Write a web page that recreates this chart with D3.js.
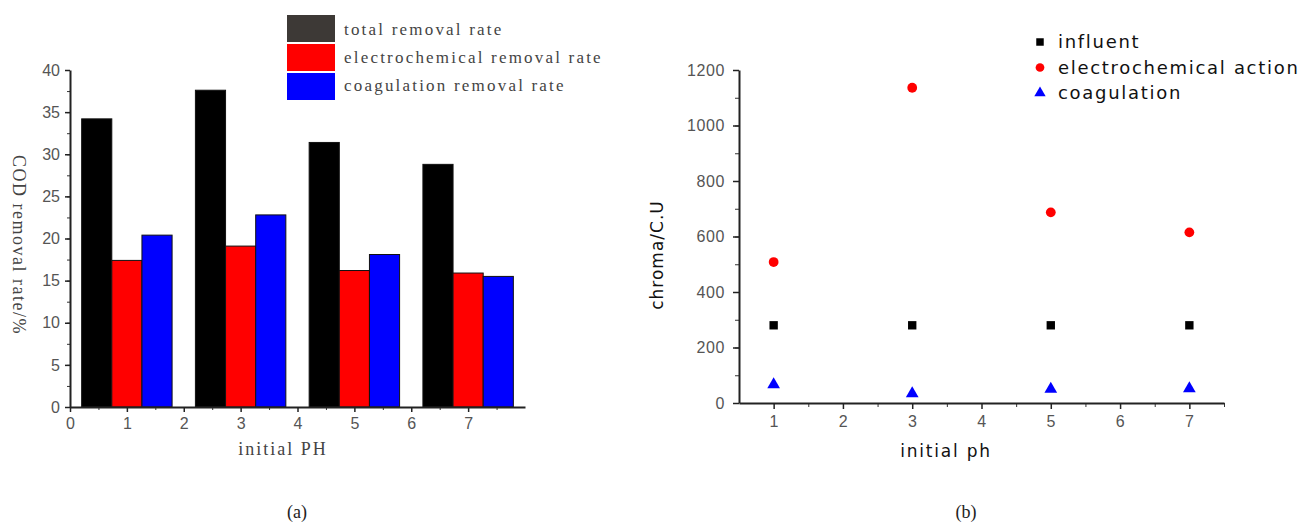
<!DOCTYPE html>
<html>
<head>
<meta charset="utf-8">
<script src="https://cdn.jsdelivr.net/npm/d3@7"></script>
<style>
  body { margin: 0; background: #fff; }
  svg { display: block; }
</style>
</head>
<body>
<svg id="fig" width="1303" height="527"></svg>
<script>
// ---- data (a) ----
const phA = [1, 3, 5, 7];
const seriesA = ["total removal rate", "electrochemical removal rate", "coagulation removal rate"];
const totalRate = [34.2, 37.6, 31.4, 28.8];
const electroRate = [17.4, 19.1, 16.2, 15.9];
const coagRate = [20.4, 22.8, 18.1, 15.5];
const colorsA = ["#000000", "#ff0000", "#0000ff"];
const swatchA = ["#3d3936", "#ff0000", "#0000ff"];
const yTicksA = [0, 5, 10, 15, 20, 25, 30, 35, 40];
const xTicksA = [0, 1, 2, 3, 4, 5, 6, 7];

// ---- data (b) ----
const phB = [1, 3, 5, 7];
const seriesB = ["influent", "electrochemical action", "coagulation"];
const influent = [280, 280, 280, 280];
const electroAction = [508, 1136, 687, 615];
const coagulation = [66, 34, 50, 52];
const colorsB = ["#000000", "#ff0000", "#0000ff"];
const yTicksB = [0, 200, 400, 600, 800, 1000, 1200];
const xTicksB = [1, 2, 3, 4, 5, 6, 7];

const svg = d3.select("#fig");
const tickColor = "#555";
const sansFont = "'Liberation Sans', Arial, sans-serif";
const serifFont = "'Liberation Serif', 'Times New Roman', serif";
const dejavu = "'DejaVu Sans', sans-serif";

// ================= (a) bar chart =================
const xA = d3.scaleLinear().domain([0, 8]).range([70, 525]);
const yA = d3.scaleLinear().domain([0, 40]).range([407, 70]);
const barW = 0.53;
const gA = svg.append("g");

const valsA = [totalRate, electroRate, coagRate];
valsA.forEach(function (vals, s) {
  gA.selectAll("rect.s" + s)
    .data(vals)
    .enter().append("rect")
    .attr("x", function (d, i) { return xA(phA[i] + (s - 1.5) * barW); })
    .attr("width", xA(barW) - xA(0))
    .attr("y", function (d) { return yA(d); })
    .attr("height", function (d) { return yA(0) - yA(d); })
    .attr("fill", colorsA[s])
    .attr("stroke", "#111")
    .attr("stroke-width", 1);
});

// minor ticks
gA.append("g").attr("transform", "translate(70,0)")
  .call(d3.axisLeft(yA).tickValues(d3.range(0, 40.1, 2.5)).tickSize(3).tickFormat(""))
  .call(function (g) { g.select(".domain").remove(); g.selectAll("line").attr("stroke", "#333"); });
gA.append("g").attr("transform", "translate(0,407)")
  .call(d3.axisBottom(xA).tickValues(d3.range(0.5, 8, 1)).tickSize(3).tickFormat(""))
  .call(function (g) { g.select(".domain").remove(); g.selectAll("line").attr("stroke", "#333"); });

const yAxisA = gA.append("g").attr("transform", "translate(70,0)")
  .call(d3.axisLeft(yA).tickValues(yTicksA).tickSize(5).tickSizeOuter(0).tickPadding(5));
const xAxisA = gA.append("g").attr("transform", "translate(0,407)")
  .call(d3.axisBottom(xA).tickValues(xTicksA).tickSize(5).tickSizeOuter(0).tickPadding(6));
[yAxisA, xAxisA].forEach(function (ax) {
  ax.select(".domain").attr("stroke", "#222").attr("stroke-width", 2);
  ax.selectAll(".tick line").attr("stroke", "#222").attr("stroke-width", 1.5);
  ax.selectAll("text").attr("fill", tickColor).style("font-family", sansFont).style("font-size", "16px");
});

gA.append("text")
  .attr("transform", "translate(13,245) rotate(90)")
  .attr("text-anchor", "middle")
  .style("font-family", serifFont).style("font-size", "18px").style("letter-spacing", "1.5px")
  .attr("fill", "#444")
  .text("COD removal rate/%");
gA.append("text")
  .attr("x", 283).attr("y", 455)
  .attr("text-anchor", "middle")
  .style("font-family", serifFont).style("font-size", "18px").style("letter-spacing", "2px")
  .attr("fill", "#444")
  .text("initial PH");

const legA = gA.append("g");
seriesA.forEach(function (name, i) {
  legA.append("rect").attr("x", 287).attr("y", 15 + i * 29).attr("width", 48).attr("height", 27)
    .attr("fill", swatchA[i]);
  legA.append("text").attr("x", 344).attr("y", 35 + i * 28)
    .style("font-family", serifFont).style("font-size", "17px").style("letter-spacing", "2.2px")
    .attr("fill", "#444").text(name);
});

svg.append("text").attr("x", 297).attr("y", 518).attr("text-anchor", "middle")
  .style("font-family", serifFont).style("font-size", "18px").attr("fill", "#222").text("(a)");

// ================= (b) scatter =================
const xB = d3.scaleLinear().domain([0.5, 7.5]).range([739, 1224]);
const yB = d3.scaleLinear().domain([0, 1200]).range([403, 70]);
const gB = svg.append("g");

gB.append("g").attr("transform", "translate(739,0)")
  .call(d3.axisLeft(yB).tickValues(d3.range(0, 1201, 100)).tickSize(4).tickFormat(""))
  .call(function (g) { g.select(".domain").remove(); g.selectAll("line").attr("stroke", "#333"); });
gB.append("g").attr("transform", "translate(0,403)")
  .call(d3.axisBottom(xB).tickValues(d3.range(1.5, 7.6, 1)).tickSize(4).tickFormat(""))
  .call(function (g) { g.select(".domain").remove(); g.selectAll("line").attr("stroke", "#333"); });

const yAxisB = gB.append("g").attr("transform", "translate(739,0)")
  .call(d3.axisLeft(yB).tickValues(yTicksB).tickFormat(d3.format("d")).tickSize(6).tickSizeOuter(0).tickPadding(8));
const xAxisB = gB.append("g").attr("transform", "translate(0,403)")
  .call(d3.axisBottom(xB).tickValues(xTicksB).tickFormat(d3.format("d")).tickSize(6).tickSizeOuter(0).tickPadding(7));
[yAxisB, xAxisB].forEach(function (ax) {
  ax.select(".domain").attr("stroke", "#222").attr("stroke-width", 2);
  ax.selectAll(".tick line").attr("stroke", "#222").attr("stroke-width", 1.5);
  ax.selectAll("text").attr("fill", tickColor).style("font-family", sansFont)
    .style("font-size", "16px").style("letter-spacing", "0.6px");
});

gB.append("text")
  .attr("transform", "translate(663,255) rotate(-90)")
  .attr("text-anchor", "middle")
  .style("font-family", dejavu).style("font-size", "17px").style("letter-spacing", "1px")
  .attr("fill", "#111")
  .text("chroma/C.U");
gB.append("text")
  .attr("x", 946).attr("y", 457)
  .attr("text-anchor", "middle")
  .style("font-family", dejavu).style("font-size", "17px").style("letter-spacing", "1.8px")
  .attr("fill", "#111")
  .text("initial ph");

const symbols = [d3.symbolSquare, d3.symbolCircle, d3.symbolTriangle];
const symSize = [70, 75, 70];
const valsB = [influent, electroAction, coagulation];
valsB.forEach(function (vals, s) {
  gB.selectAll("path.s" + s)
    .data(vals)
    .enter().append("path")
    .attr("d", d3.symbol().type(symbols[s]).size(symSize[s]))
    .attr("transform", function (d, i) { return "translate(" + xB(phB[i]) + "," + yB(d) + ")"; })
    .attr("fill", colorsB[s]);
});

const legB = gB.append("g");
seriesB.forEach(function (name, i) {
  legB.append("path")
    .attr("d", d3.symbol().type(symbols[i]).size(symSize[i] * 0.8))
    .attr("transform", "translate(1040," + (42 + i * 25.5) + ")")
    .attr("fill", colorsB[i]);
  legB.append("text").attr("x", 1058).attr("y", 48 + i * 25.5)
    .style("font-family", dejavu).style("font-size", "18px")
    .style("letter-spacing", "1.7px")
    .attr("fill", "#111").text(name);
});

svg.append("text").attr("x", 966).attr("y", 518).attr("text-anchor", "middle")
  .style("font-family", serifFont).style("font-size", "18px").attr("fill", "#222").text("(b)");
</script>
</body>
</html>
